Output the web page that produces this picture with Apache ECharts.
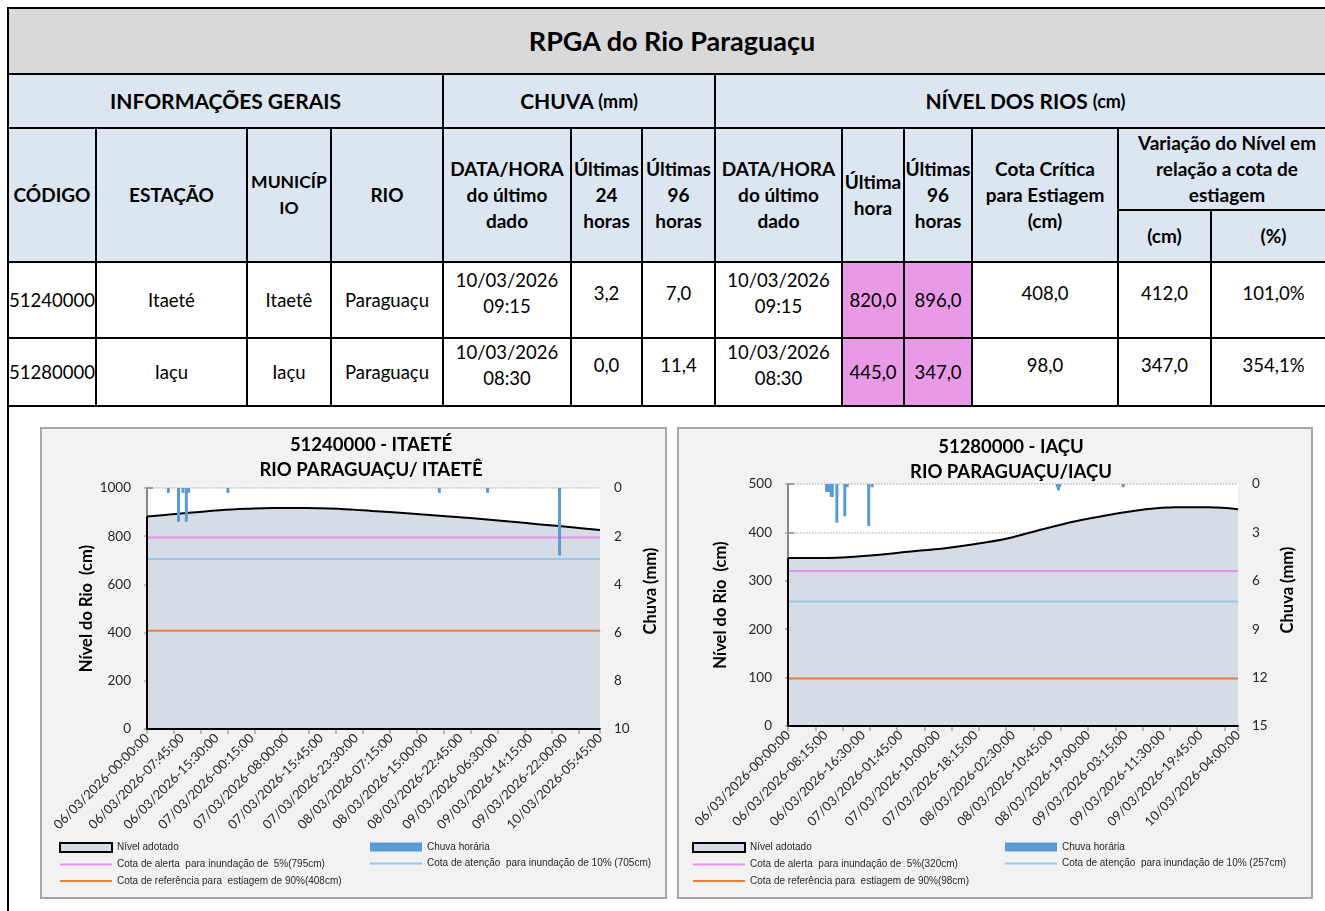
<!DOCTYPE html>
<html><head><meta charset="utf-8">
<script src="https://cdn.jsdelivr.net/npm/echarts@6/dist/echarts.min.js"></script>
<style>
html,body{margin:0;padding:0;background:#fff;width:1325px;height:911px;overflow:hidden;font-family:Lato,'Noto Sans',sans-serif;}
.cell{position:absolute;box-sizing:border-box;border:2px solid #000;display:flex;align-items:center;justify-content:center;text-align:center;white-space:pre;line-height:26px;color:#000;font-size:18.5px;overflow:visible;}
.hb{font-weight:bold;}
.box{position:absolute;box-sizing:border-box;background:#f2f2f2;border:2px solid #a6a6a6;}
#chart{position:absolute;left:0;top:0;width:1325px;height:911px;}
</style></head><body>
<div id="table"></div>
<div style="position:absolute;left:7px;top:405px;width:2px;height:510px;background:#000"></div>
<div class="box" style="left:40px;top:427px;width:627px;height:472px"></div>
<div class="box" style="left:677px;top:427px;width:636px;height:472px"></div>
<div id="chart"></div>
<script>
// ---------- TABLE DATA ----------
const tableTitle = 'RPGA do Rio Paraguaçu';
const groupHeaders = ['INFORMAÇÕES GERAIS', 'CHUVA <span style="font-size:18px">(mm)</span>', 'NÍVEL DOS RIOS <span style="font-size:18px">(cm)</span>'];
const colHeaders = ['CÓDIGO', 'ESTAÇÃO', 'MUNICÍP\nIO', 'RIO', 'DATA/HORA\ndo último\ndado', 'Últimas\n24\nhoras', 'Últimas\n96\nhoras', 'DATA/HORA\ndo último\ndado', 'Última\nhora', 'Últimas\n96\nhoras', 'Cota Crítica\npara Estiagem\n(cm)'];
const variacaoHeader = 'Variação do Nível em\nrelação a cota de\nestiagem';
const variacaoSub = ['(cm)', '(%)'];
const codigos = ['51240000', '51280000'];
const estacoes = ['Itaeté', 'Iaçu'];
const municipios = ['Itaetê', 'Iaçu'];
const rios = ['Paraguaçu', 'Paraguaçu'];
const chuvaDataHora = ['10/03/2026\n09:15', '10/03/2026\n08:30'];
const chuva24h = ['3,2', '0,0'];
const chuva96h = ['7,0', '11,4'];
const nivelDataHora = ['10/03/2026\n09:15', '10/03/2026\n08:30'];
const nivelUltimaHora = ['820,0', '445,0'];
const nivel96h = ['896,0', '347,0'];
const cotaCritica = ['408,0', '98,0'];
const variacaoCm = ['412,0', '347,0'];
const variacaoPct = ['101,0%', '354,1%'];

// ---------- CHART DATA ----------
const chartTitles = ['51240000 - ITAETÉ\nRIO PARAGUAÇU/ ITAETÊ', '51280000 - IAÇU\nRIO PARAGUAÇU/IAÇU'];
const labels1 = ['06/03/2026-00:00:00','06/03/2026-07:45:00','06/03/2026-15:30:00','07/03/2026-00:15:00','07/03/2026-08:00:00','07/03/2026-15:45:00','07/03/2026-23:30:00','08/03/2026-07:15:00','08/03/2026-15:00:00','08/03/2026-22:45:00','09/03/2026-06:30:00','09/03/2026-14:15:00','09/03/2026-22:00:00','10/03/2026-05:45:00'];
const labels2 = ['06/03/2026-00:00:00','06/03/2026-08:15:00','06/03/2026-16:30:00','07/03/2026-01:45:00','07/03/2026-10:00:00','07/03/2026-18:15:00','08/03/2026-02:30:00','08/03/2026-10:45:00','08/03/2026-19:00:00','09/03/2026-03:15:00','09/03/2026-11:30:00','09/03/2026-19:45:00','10/03/2026-04:00:00'];
// [reading index, value]
const nivel1 = [[0,882],[20,890],[40,898],[65,908],[90,914],[112,917],[140,917],[172,913],[200,905],[231,895],[260,885],[290,874],[320,862],[350,849],[378,837],[403,826]];
const chuva1 = [[19,0.2],[28,1.4],[32,0.2],[35,1.4],[37,0.2],[72,0.2],[260,0.2],[303,0.2],[367,2.8]];
const nivel2 = [[0,347],[28,347],[70,352],[106,360],[140,368],[165,376],[194,388],[223,406],[253,423],[282,436],[312,447],[341,452],[370,452],[396,448]];
const chuva2 = [[34,0.5],[36,0.5],[38,0.8],[39,0.8],[43,2.4],[50,2.0],[52,0.2],[71,2.6],[74,0.2],[237,0.2],[238,0.4],[239,0.2],[295,0.2]];
const cotas1 = [795, 705, 408];
const cotas2 = [320, 257, 98];
const cotaNames1 = ['Cota de alerta  para inundação de  5%(795cm)', 'Cota de atenção  para inundação de 10% (705cm)', 'Cota de referência para  estiagem de 90%(408cm)'];
const cotaNames2 = ['Cota de alerta  para inundação de  5%(320cm)', 'Cota de atenção  para inundação de 10% (257cm)', 'Cota de referência para  estiagem de 90%(98cm)'];
const seriesNames = ['Nível adotado', 'Chuva horária'];
const axisNames = ['Nível do Rio  (cm)', 'Chuva (mm)'];

// ---------- TABLE BUILD ----------
const T = document.getElementById('table');
function cell(x0, y0, x1, y1, html, cls, style) {
  const d = document.createElement('div');
  d.className = 'cell ' + (cls || '');
  d.style.left = x0 + 'px'; d.style.top = y0 + 'px';
  d.style.width = (x1 - x0 + 2) + 'px'; d.style.height = (y1 - y0 + 2) + 'px';
  if (style) d.style.cssText += style;
  d.innerHTML = html;
  T.appendChild(d);
}
const colX = [7, 95, 246, 330, 442, 570, 641, 714, 841, 903, 971, 1117, 1210, 1335];
const rowY = [7, 73, 127, 209, 261, 337, 405];
const HB = 'background:#dce6f1;';
cell(colX[0], rowY[0], colX[13], rowY[1], tableTitle, 'hb', 'background:#d9d9d9;font-size:27px;');
cell(colX[0], rowY[1], colX[4], rowY[2], groupHeaders[0], 'hb', HB + 'font-size:21px;');
cell(colX[4], rowY[1], colX[7], rowY[2], groupHeaders[1], 'hb', HB + 'font-size:21px;');
cell(colX[7], rowY[1], colX[13], rowY[2], groupHeaders[2], 'hb', HB + 'font-size:21px;');
colHeaders.forEach((h, i) => cell(colX[i], rowY[2], colX[i+1], rowY[4], h, 'hb', HB + (i === 2 ? 'font-size:17.5px;' : 'font-size:19px;')));
cell(colX[11], rowY[2], colX[13], rowY[3], variacaoHeader, 'hb', HB + 'font-size:19px;');
cell(colX[11], rowY[3], colX[12], rowY[4], variacaoSub[0], 'hb', HB + 'font-size:19px;');
cell(colX[12], rowY[3], colX[13], rowY[4], variacaoSub[1], 'hb', HB + 'font-size:19px;');
const cols = [codigos, estacoes, municipios, rios, chuvaDataHora, chuva24h, chuva96h, nivelDataHora, nivelUltimaHora, nivel96h, cotaCritica, variacaoCm, variacaoPct];
for (let r = 0; r < 2; r++) {
  cols.forEach((arr, c) => {
    let st = 'background:#fff;';
    if (c === 8 || c === 9) st = 'background:#e99ae6;';
    if ([4,5,6,7,10,11,12].includes(c)) st += 'padding-bottom:14px;';
    cell(colX[c], rowY[4 + r], colX[c+1], rowY[5 + r], arr[r], '', st);
  });
}

// ---------- CHARTS ----------
const FONT = 'Lato, "Open Sans", sans-serif';
const LEGFONT = '"Liberation Sans", Arial, sans-serif';
const LINE_ICON = 'path://M0,0L52,0L52,2L0,2Z';
const cotaColors = ['#ea8fea', '#9dc3e6', '#ed7d31'];
const charts = [
  {grid:{left:147, top:488, width:453, height:241}, labels:labels1, step:31, yMax:1000, yStep:200, rMax:10, rStep:2,
   nivel:nivel1, chuva:chuva1, cotas:cotas1, cotaNames:cotaNames1, title:chartTitles[0], titleX:366, titleY:428,
   nameGap:52, rName:[651, 591], legL:54, legR:365},
  {grid:{left:788, top:484, width:450, height:242}, labels:labels2, step:33, yMax:500, yStep:100, rMax:15, rStep:3,
   nivel:nivel2, chuva:chuva2, cotas:cotas2, cotaNames:cotaNames2, title:chartTitles[1], titleX:1006, titleY:430,
   nameGap:59, rName:[1288, 590], legL:687, legR:1000}
];
const option = {animation:false, grid:[], xAxis:[], yAxis:[], series:[], title:[], legend:[], graphic:[]};
const lblStyle = {fontSize:13.5, fontFamily:FONT, color:'#262626'};
charts.forEach((c, i) => {
  const xMax = c.step * (c.labels.length - 1);
  option.grid.push(Object.assign({show:true, backgroundColor:'#fff', borderWidth:0, containLabel:false}, c.grid));
  option.xAxis.push({type:'value', gridIndex:i, position:'bottom', min:0, max:xMax, interval:c.step,
    axisLine:{show:true, onZero:false, lineStyle:{color:'#000', width:2}}, axisTick:{show:false}, splitLine:{show:false},
    axisLabel:{rotate:45, margin:7, fontSize:13, fontFamily:FONT, color:'#262626', showMinLabel:true, showMaxLabel:true,
      formatter: v => c.labels[Math.round(v / c.step)] || ''}});
  option.xAxis.push({type:'value', gridIndex:i, position:'bottom', min:0, max:xMax, interval:24,
    axisLine:{show:false}, axisTick:{show:true, length:5, lineStyle:{color:'#a6a6a6', width:1.5}}, axisLabel:{show:false}, splitLine:{show:false}});
  option.yAxis.push({type:'value', gridIndex:i, position:'left', min:0, max:c.yMax, interval:c.yStep,
    name:axisNames[0], nameLocation:'middle', nameGap:c.nameGap,
    nameTextStyle:{fontWeight:'bold', fontSize:16.5, fontFamily:FONT, color:'#000'},
    axisLine:{show:true, lineStyle:{color:'#a6a6a6', type:'dotted', width:1.5}},
    axisTick:{show:true, length:3, lineStyle:{color:'#a6a6a6', width:1.5}},
    axisLabel:Object.assign({margin:16, formatter: v => String(v)}, lblStyle),
    splitLine:{show:true, lineStyle:{color:'#bfbfbf', type:'dotted', width:1.5}}});
  option.yAxis.push({type:'value', gridIndex:i, position:'right', min:0, max:c.rMax, interval:c.rStep, inverse:true,
    axisLine:{show:true, lineStyle:{color:'#868686', width:2}},
    axisTick:{show:true, length:6, lineStyle:{color:'#868686', width:1.5}},
    axisLabel:Object.assign({margin:14, formatter: v => String(v)}, lblStyle), splitLine:{show:false}});
  option.series.push({name:seriesNames[0], type:'line', xAxisIndex:2*i, yAxisIndex:2*i, data:c.nivel, smooth:0.4, symbol:'none',
    lineStyle:{color:'#000', width:2}, itemStyle:{color:'#000'}, areaStyle:{color:'#d6dce5', opacity:1}, z:2});
  c.cotas.forEach((v, j) => option.series.push({name:c.cotaNames[j], type:'line', xAxisIndex:2*i, yAxisIndex:2*i,
    data:[[0, v], [xMax, v]], symbol:'none', lineStyle:{color:cotaColors[j], width:2}, itemStyle:{color:cotaColors[j]}, z:3}));
  option.series.push({name:seriesNames[1], type:'bar', xAxisIndex:2*i, yAxisIndex:2*i+1, data:c.chuva, barWidth:3,
    itemStyle:{color:'#5b9bd5'}, z:4});
  option.series.push({name:'borda' + i, type:'line', xAxisIndex:2*i, yAxisIndex:2*i, silent:true,
    data:[[0, c.nivel[0][1]], [0, 0], [xMax, 0]], symbol:'none', lineStyle:{color:'#000', width:2}, z:5});
  option.title.push({text:c.title, left:c.titleX, top:c.titleY, textAlign:'center',
    textStyle:{fontSize:18.5, fontWeight:'bold', fontFamily:FONT, lineHeight:25, color:'#000'}});
  option.graphic.push({type:'text', x:c.rName[0], y:c.rName[1], rotation:Math.PI/2,
    style:{text:axisNames[1], textAlign:'center', textVerticalAlign:'middle', font:'bold 16.5px ' + FONT, fill:'#000'}});
  const legCommon = {orient:'vertical', top:837, itemWidth:52, itemHeight:9, itemGap:6.5, selectedMode:false,
    textStyle:{fontSize:10, fontFamily:LEGFONT, color:'#262626'}};
  option.legend.push(Object.assign({left:c.legL, data:[
    {name:seriesNames[0], icon:'rect', itemStyle:{color:'#d6dce5', borderColor:'#000', borderWidth:2}},
    {name:c.cotaNames[0], icon:LINE_ICON, itemStyle:{color:cotaColors[0]}},
    {name:c.cotaNames[2], icon:LINE_ICON, itemStyle:{color:cotaColors[2]}}]}, legCommon));
  option.legend.push(Object.assign({left:c.legR, data:[
    {name:seriesNames[1], icon:'rect', itemStyle:{color:'#5b9bd5'}},
    {name:c.cotaNames[1], icon:LINE_ICON, itemStyle:{color:cotaColors[1]}}]}, legCommon));
});
const chart = echarts.init(document.getElementById('chart'));
chart.setOption(option);
</script>
</body></html>
